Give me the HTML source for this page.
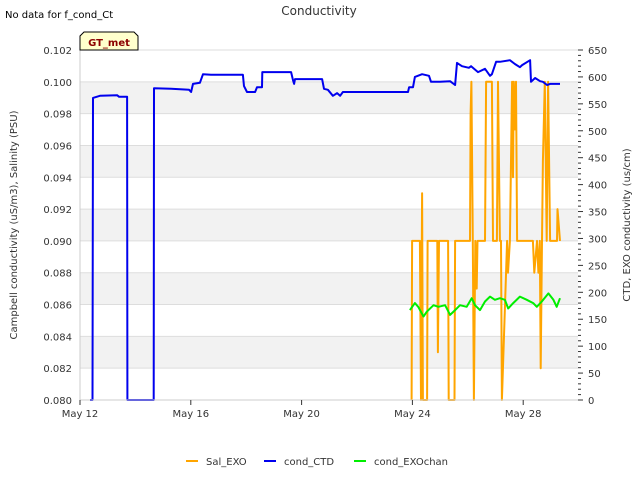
<!DOCTYPE html>
<html><head><meta charset="utf-8"><style>
body{margin:0;background:#fff;font-family:"DejaVu Sans","Liberation Sans",sans-serif}
</style></head><body>
<svg id="c" width="640" height="480" xmlns="http://www.w3.org/2000/svg" font-family="DejaVu Sans, Liberation Sans, sans-serif">
<text x="5" y="18" font-size="10" fill="#000">No data for f_cond_Ct</text>
<text x="319" y="15" font-size="12" fill="#333" text-anchor="middle">Conductivity</text>
<g id="grid"></g>
<g id="series"></g>
<g id="axes"></g>
<g>
<path d="M80,50 L80,36 L84,32 L134,32 L138,36 L138,50 Z" fill="#ffffcc" stroke="#000" stroke-width="1"/>
<text x="109" y="46" font-size="10" font-weight="bold" fill="#8b0000" text-anchor="middle">GT_met</text>
</g>
<text transform="translate(17,225) rotate(-90)" font-size="10" fill="#333" text-anchor="middle">Campbell conductivity (uS/m3), Salinity (PSU)</text>
<text transform="translate(630,225) rotate(-90)" font-size="10" fill="#333" text-anchor="middle">CTD, EXO conductivity (us/cm)</text>
<g>
<g><line x1="186" y1="461" x2="198" y2="461" stroke="orange" stroke-width="2"/><text x="206" y="465" font-size="10" fill="#333">Sal_EXO</text></g>
<g><line x1="264" y1="461" x2="276" y2="461" stroke="#0000ee" stroke-width="2"/><text x="284" y="465" font-size="10" fill="#333">cond_CTD</text></g>
<g><line x1="354" y1="461" x2="366" y2="461" stroke="#00ee00" stroke-width="2"/><text x="374" y="465" font-size="10" fill="#333">cond_EXOchan</text></g>
</g>
</svg>
<script>
const xTickLabels=["May 12","May 16","May 20","May 24","May 28"];
const xTickDays=[0,4,8,12,16];
const leftTicks=[0.080,0.082,0.084,0.086,0.088,0.090,0.092,0.094,0.096,0.098,0.100,0.102];
const rightTicks=[0,50,100,150,200,250,300,350,400,450,500,550,600,650];
const ctdDays=[0.36,0.45,0.47,0.72,1.34,1.41,1.70,1.71,2.66,2.67,3.29,3.94,4.01,4.08,4.33,4.44,4.73,5.88,5.92,6.03,6.32,6.39,6.57,6.58,7.62,7.69,7.73,7.76,8.74,8.81,8.95,9.13,9.28,9.39,9.49,11.84,11.88,12.02,12.09,12.35,12.6,12.67,13.0,13.36,13.54,13.61,13.79,14.04,14.12,14.37,14.62,14.8,14.87,15.02,15.16,15.52,15.7,15.88,15.96,16.25,16.28,16.43,16.61,16.71,16.86,16.97,17.33];
const ctdVals=[0,0,561,565,566,563,563,0,0,579,578,576,572,587,589,605,604,604,583,572,572,581,581,609,609,594,587,596,596,578,576,565,570,565,572,572,581,581,600,605,602,591,591,592,585,626,620,617,620,609,615,602,605,628,628,631,624,618,622,631,591,598,592,591,585,587,587];
const salDays=[11.97,11.99,12.27,12.31,12.35,12.38,12.53,12.55,12.90,12.92,12.96,13.0,13.29,13.31,13.52,13.54,14.06,14.08,14.1,14.13,14.18,14.22,14.27,14.32,14.35,14.5,14.6,14.62,14.66,14.87,14.91,15.05,15.09,15.16,15.2,15.23,15.42,15.45,15.52,15.6,15.63,15.66,15.7,15.74,15.78,15.82,15.88,15.96,16.35,16.4,16.5,16.55,16.6,16.63,16.68,16.71,16.78,16.85,16.9,16.97,17.0,17.1,17.22,17.24,17.33];
const salVals=[0.080,0.090,0.090,0.080,0.093,0.080,0.080,0.090,0.090,0.083,0.090,0.090,0.090,0.080,0.080,0.090,0.090,0.090,0.098,0.100,0.090,0.080,0.090,0.087,0.090,0.090,0.090,0.090,0.100,0.100,0.090,0.090,0.100,0.090,0.090,0.080,0.090,0.088,0.090,0.100,0.094,0.100,0.097,0.100,0.090,0.090,0.090,0.090,0.090,0.088,0.090,0.088,0.090,0.082,0.090,0.095,0.100,0.090,0.100,0.090,0.090,0.090,0.090,0.092,0.090];
const exoDays=[11.91,12.09,12.21,12.4,12.52,12.76,12.94,13.18,13.36,13.54,13.72,13.96,14.14,14.26,14.44,14.62,14.8,14.98,15.16,15.34,15.46,15.64,15.88,16.13,16.36,16.49,16.67,16.91,17.09,17.21,17.33];
const exoVals=[167,180,173,155,164,176,173,176,158,167,176,173,189,176,167,183,192,186,189,186,170,180,192,186,180,173,183,198,186,173,189];

const L=80,R=578,T=50,B=400,pxDay=27.7;
const X=d=>L+d*pxDay;
const YL=v=>B-(v-0.080)/0.022*(B-T);
const YR=v=>B-v/650*(B-T);
const NS="http://www.w3.org/2000/svg";
function mk(tag,attrs,parent){const e=document.createElementNS(NS,tag);for(const k in attrs)e.setAttribute(k,attrs[k]);parent.appendChild(e);return e;}
const grid=document.getElementById('grid'),axes=document.getElementById('axes'),ser=document.getElementById('series');
for(let i=0;i<leftTicks.length-1;i++){
  if(i%2===1){const r=mk('rect',{x:L,y:YL(leftTicks[i+1]),width:R-L,height:YL(leftTicks[i])-YL(leftTicks[i+1]),fill:'#f2f2f2'},grid);
  
  }
}
leftTicks.forEach(v=>{
  const g=mk('line',{x1:L,x2:R,y1:YL(v),y2:YL(v),stroke:'#dddddd','stroke-width':1},grid);
  
  
  const t=mk('text',{x:L-8,y:YL(v)+4,'font-size':10,fill:'#333','text-anchor':'end'},axes);
  t.textContent=v.toFixed(3);
  
  
});
const ax1=mk('line',{x1:L,x2:L,y1:T,y2:B,stroke:'#ccc'},axes);


const ax2=mk('line',{x1:L,x2:R,y1:B,y2:B,stroke:'#ccc'},axes);


for(let v=0;v<=650;v+=10){
  const big=v%50===0;
  const tk=mk('line',{x1:R,x2:R+(big?5:3),y1:YR(v),y2:YR(v),stroke:'#333'},axes);
  
  
}
rightTicks.forEach(v=>{
  const t=mk('text',{x:R+10,y:YR(v)+4,'font-size':10,fill:'#333'},axes);
  t.textContent=v;
  
  
});
xTickDays.forEach((d,i)=>{
  const tk=mk('line',{x1:X(d),x2:X(d),y1:B,y2:B+5,stroke:'#333'},axes);
  
  
  const t=mk('text',{x:X(d),y:B+17,'font-size':10,fill:'#333','text-anchor':'middle'},axes);
  t.textContent=xTickLabels[i];
  
  
});
function line(days,vals,yf,color,name){
  const p=mk('polyline',{points:days.map((d,i)=>X(d).toFixed(1)+','+yf(vals[i]).toFixed(1)).join(' '),fill:'none',stroke:color,'stroke-width':2,'stroke-linejoin':'round'},ser);
  
  
}
line(salDays,salVals,YL,'orange','sal-exo-line');
line(exoDays,exoVals,YR,'#00ee00','cond-exochan-line');
line(ctdDays,ctdVals,YR,'#0000ee','cond-ctd-line');
</script>
</body></html>
